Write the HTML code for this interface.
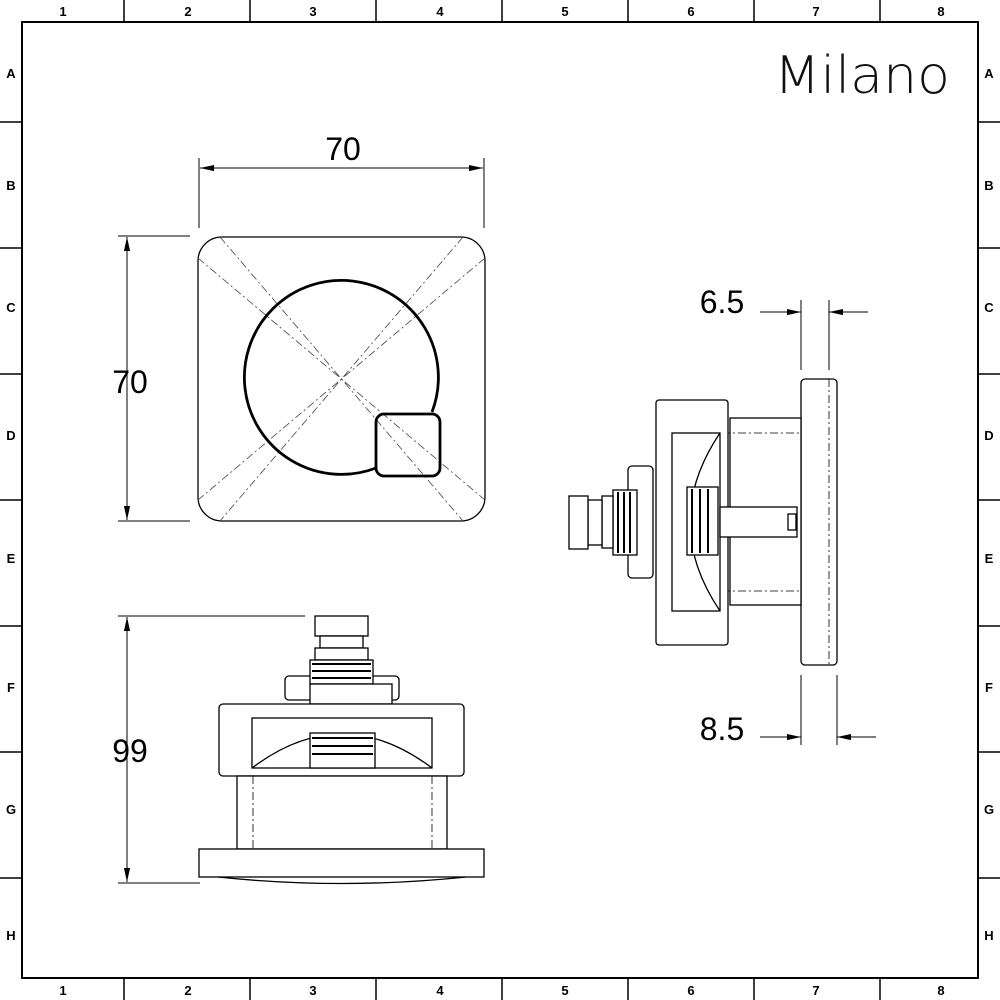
<!DOCTYPE html>
<html><head><style>
html,body{margin:0;padding:0;background:#fff}
svg{display:block}
text{font-family:"Liberation Sans",sans-serif}
.g{font-size:13px;font-weight:bold;text-anchor:middle}
.d{font-size:32px;text-anchor:middle}
</style></head><body>
<svg width="1000" height="1000" viewBox="0 0 1000 1000" xmlns="http://www.w3.org/2000/svg">
<defs><marker id="a" viewBox="0 0 16 8" refX="16" refY="4" markerWidth="16" markerHeight="7" orient="auto-start-reverse" markerUnits="userSpaceOnUse"><path d="M0,0.5 L16,4 L0,7.5 z" fill="#000"/></marker></defs>
<g stroke="#000" stroke-width="1.5" fill="none">
<rect x="22" y="22" width="956" height="956" stroke-width="2"/>
<path d="M124 0V22M250 0V22M376 0V22M502 0V22M628 0V22M754 0V22M880 0V22M124 978V1000M250 978V1000M376 978V1000M502 978V1000M628 978V1000M754 978V1000M880 978V1000"/>
<path d="M0 122H22M0 248H22M0 374H22M0 500H22M0 626H22M0 752H22M0 878H22M978 122H1000M978 248H1000M978 374H1000M978 500H1000M978 626H1000M978 752H1000M978 878H1000"/>
</g>
<g class="g">
<text x="63" y="16">1</text><text x="188" y="16">2</text><text x="313" y="16">3</text><text x="440" y="16">4</text><text x="565" y="16">5</text><text x="691" y="16">6</text><text x="816" y="16">7</text><text x="941" y="16">8</text>
<text x="63" y="995">1</text><text x="188" y="995">2</text><text x="313" y="995">3</text><text x="440" y="995">4</text><text x="565" y="995">5</text><text x="691" y="995">6</text><text x="816" y="995">7</text><text x="941" y="995">8</text>
<text x="11" y="78">A</text><text x="11" y="190">B</text><text x="11" y="312">C</text><text x="11" y="440">D</text><text x="11" y="563">E</text><text x="11" y="692">F</text><text x="11" y="814">G</text><text x="11" y="940">H</text>
<text x="989" y="78">A</text><text x="989" y="190">B</text><text x="989" y="312">C</text><text x="989" y="440">D</text><text x="989" y="563">E</text><text x="989" y="692">F</text><text x="989" y="814">G</text><text x="989" y="940">H</text>
</g>
<text x="862" y="93" style="font-family:'DejaVu Sans ExtraLight','DejaVu Sans',sans-serif;font-size:52px;font-weight:200" text-anchor="middle" textLength="176" lengthAdjust="spacingAndGlyphs" fill="#111">Milano</text>

<!-- front view -->
<g stroke="#000" fill="none">
<rect x="198" y="237" width="287" height="284" rx="24" stroke-width="1.3"/>
<g stroke-width="0.8" stroke-dasharray="8 3 2 3" stroke="#444">
<line x1="220" y1="237" x2="463" y2="521"/><line x1="463" y1="237" x2="220" y2="521"/>
<line x1="198" y1="258" x2="485" y2="500"/><line x1="485" y1="258" x2="198" y2="500"/>
</g>
<path d="M432 412 A97 97 0 1 0 376 468" stroke-width="2.8"/>
<rect x="376" y="414" width="64" height="62" rx="8" stroke-width="2.8"/>
<!-- dims -->
<g stroke-width="1">
<line x1="199" y1="158" x2="199" y2="228"/><line x1="484" y1="158" x2="484" y2="228"/>
<line x1="200" y1="168" x2="483" y2="168" marker-start="url(#a)" marker-end="url(#a)"/>
<line x1="118" y1="236" x2="190" y2="236"/><line x1="118" y1="521" x2="190" y2="521"/>
<line x1="127" y1="237" x2="127" y2="520" marker-start="url(#a)" marker-end="url(#a)"/>
<line x1="118" y1="616" x2="305" y2="616"/><line x1="118" y1="883" x2="200" y2="883"/>
<line x1="127" y1="617" x2="127" y2="882" marker-start="url(#a)" marker-end="url(#a)"/>
<line x1="801" y1="300" x2="801" y2="370"/><line x1="829" y1="300" x2="829" y2="370"/>
<line x1="760" y1="312" x2="801" y2="312" marker-end="url(#a)"/><line x1="868" y1="312" x2="829" y2="312" marker-end="url(#a)"/>
<line x1="801" y1="675" x2="801" y2="745"/><line x1="837" y1="675" x2="837" y2="745"/>
<line x1="760" y1="737" x2="801" y2="737" marker-end="url(#a)"/><line x1="876" y1="737" x2="837" y2="737" marker-end="url(#a)"/>
</g>
</g>
<text class="d" x="343" y="160">70</text>
<text class="d" x="130" y="393">70</text>
<text class="d" x="130" y="762">99</text>
<text class="d" x="722" y="313">6.5</text>
<text class="d" x="722" y="740">8.5</text>

<!-- bottom view -->
<g stroke="#000" fill="#fff" stroke-width="1.3">
<rect x="315" y="616" width="53" height="20"/>
<rect x="320" y="636" width="43" height="12"/>
<rect x="315" y="648" width="53" height="12"/>
<rect x="285" y="676" width="114" height="24" rx="4"/>
<rect x="310" y="660" width="63" height="24"/>
<path d="M312 664H371M312 671H371M312 678H371" stroke-width="2"/>
<rect x="310" y="684" width="82" height="20"/>
<rect x="219" y="704" width="245" height="72" rx="4"/>
<rect x="252" y="718" width="180" height="50"/>
<path d="M252 768 Q342 700 432 768" fill="none"/>
<rect x="310" y="733" width="65" height="35"/>
<path d="M312 738H373M312 746H373M312 754H373" stroke-width="2"/>
<rect x="237" y="776" width="210" height="73"/>
<path d="M253 776V849M432 776V849" stroke-dasharray="8 3 2 3" stroke-width="0.8"/>
<rect x="199" y="849" width="285" height="28"/>
<path d="M218 877 Q342 890 466 877" fill="none"/>
</g>

<!-- side view -->
<g stroke="#000" fill="#fff" stroke-width="1.3">
<rect x="801" y="379" width="36" height="286" rx="4"/>
<path d="M829 379V665" fill="none" stroke-dasharray="8 3 2 3" stroke-width="0.8"/>
<rect x="730" y="418" width="71" height="187"/>
<path d="M722 433H801M722 591H801" fill="none" stroke-dasharray="8 3 2 3" stroke-width="0.8"/>
<rect x="656" y="400" width="72" height="245" rx="3"/>
<rect x="672" y="433" width="48" height="178"/>
<path d="M720 433 Q660 522 720 611" fill="none"/>
<rect x="687" y="487" width="31" height="68"/>
<path d="M692 489V553M700 489V553M708 489V553" stroke-width="2"/>
<rect x="720" y="507" width="77" height="30"/>
<rect x="788" y="514" width="8" height="16"/>
<rect x="628" y="466" width="25" height="112" rx="4"/>
<rect x="613" y="490" width="24" height="65"/>
<path d="M618 492V553M624 492V553M630 492V553" stroke-width="2"/>
<rect x="602" y="496" width="11" height="52"/>
<rect x="588" y="500" width="14" height="45"/>
<rect x="569" y="496" width="19" height="53"/>
</g>
</svg>
</body></html>
